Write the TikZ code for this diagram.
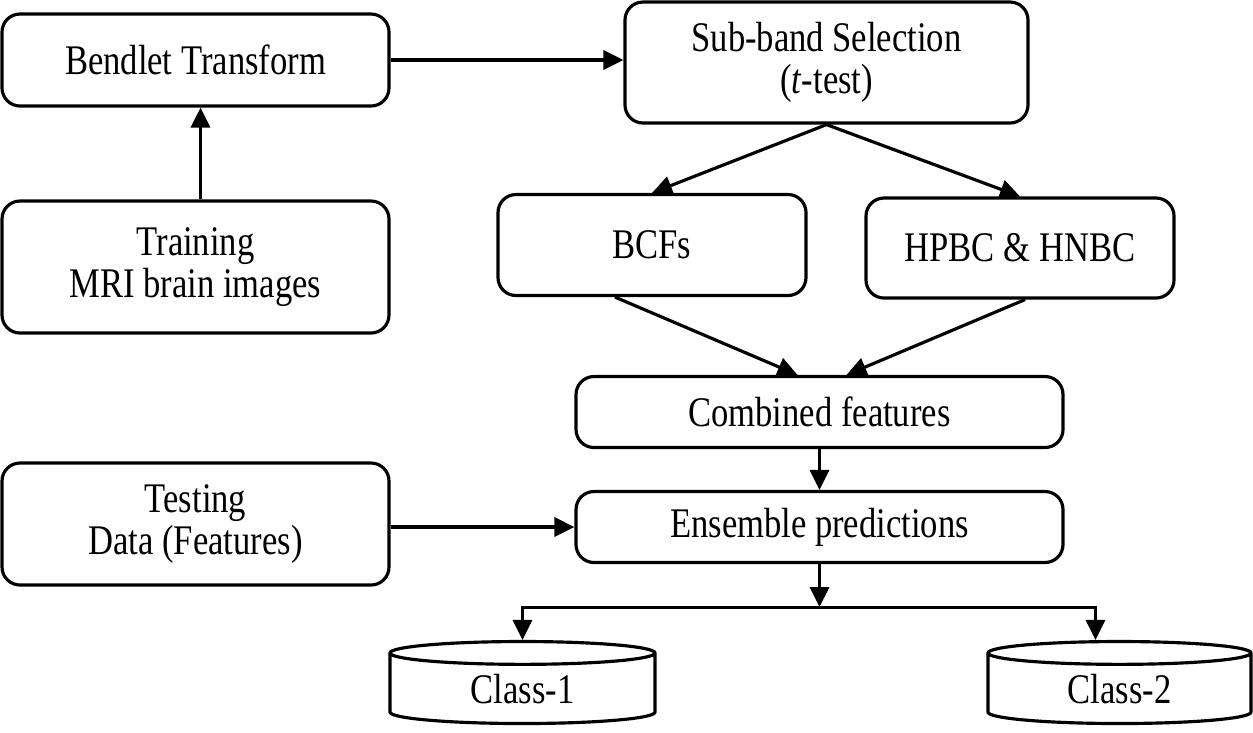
\documentclass[tikz,border=0pt]{standalone}
\usepackage{fontspec}
\setmainfont{Liberation Serif}[FakeStretch=0.82]
\usetikzlibrary{positioning, arrows.meta, shapes.geometric, calc}
\tikzset{
    block/.style={draw, line width=0.9pt, rounded corners=0.18cm, align=center,
      inner sep=0pt, font=\fontsize{12}{12}\selectfont},
    store/.style={draw, line width=0.9pt, cylinder, shape border rotate=90,
      aspect=0.22, inner sep=0pt, font=\fontsize{12}{12}\selectfont},
    arr/.style={-{Triangle[length=0.2cm, width=0.19cm]}, line width=0.9pt},
}
\begin{document}
\begin{tikzpicture}
    \useasboundingbox (0,0) rectangle (12.53,-7.32);

    % training branch
    \node[block, minimum width=3.87cm, minimum height=0.92cm] (bt) at (1.955,-0.60) {Bendlet Transform};
    \node[block, minimum width=3.87cm, minimum height=1.32cm] (tr) at (1.955,-2.67) {Training\\MRI brain images};
    \node[block, minimum width=3.87cm, minimum height=1.22cm] (te) at (1.955,-5.24) {Testing\\Data (Features)};

    \node[block, minimum width=4.03cm, minimum height=1.21cm] (sb) at (8.265,-0.625) {Sub-band Selection\\(\textit{t}-test)};
    \node[block, minimum width=3.08cm, minimum height=1.01cm] (bcf) at (6.52,-2.45) {BCFs};
    \node[block, minimum width=3.08cm, minimum height=1.00cm] (hp) at (10.20,-2.48) {HPBC \& HNBC};
    \node[block, minimum width=4.87cm, minimum height=0.71cm] (cf) at (8.195,-4.12) {Combined features};
    \node[block, minimum width=4.87cm, minimum height=0.71cm] (ep) at (8.195,-5.27) {Ensemble predictions};

    % classes
    \node[store, minimum width=2.65cm, minimum height=0.82cm] (c1) at (5.225,-6.89) {Class-1};
    \node[store, minimum width=2.63cm, minimum height=0.82cm] (c2) at (11.195,-6.89) {Class-2};

    \draw[arr] (bt.east) -- (bt.east -| sb.west);
    \draw[arr] ([xshift=0.05cm]tr.north) -- ([xshift=0.05cm]bt.south);
    \draw[arr] (sb.south) -- (bcf.north);
    \draw[arr] (sb.south) -- (hp.north);
    \draw[arr] ([xshift=-0.37cm]bcf.south) -- ([xshift=-0.22cm]cf.north);
    \draw[arr] ([xshift=0.05cm]hp.south) -- ([xshift=0.27cm]cf.north);
    \draw[arr] (cf) -- (ep);
    \draw[arr] (te.east |- ep.west) -- (ep.west);

    \coordinate (split) at ($(ep.south)+(0,-0.43)$);
    \draw[arr] (ep) -- (split);
    \draw[arr] (split) -| (c1.north);
    \draw[arr] (split) -| ([xshift=-0.24cm]c2.north);
\end{tikzpicture}
\end{document}
